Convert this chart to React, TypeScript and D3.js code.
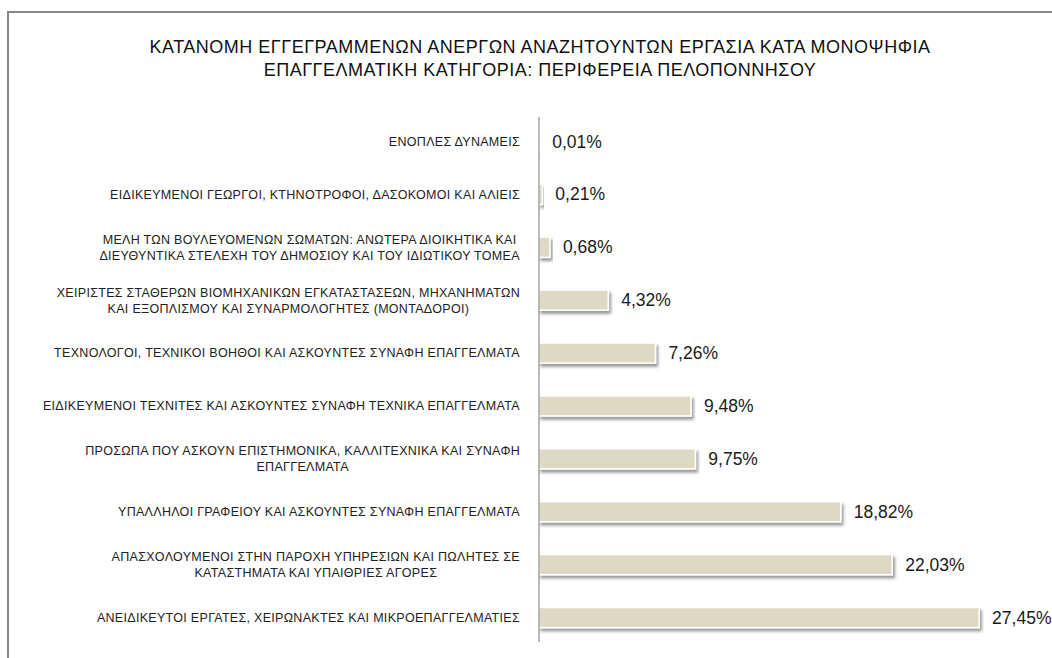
import React, { useEffect, useRef } from 'react';
import * as d3 from 'd3';

const titleLines = [
  'ΚΑΤΑΝΟΜΗ ΕΓΓΕΓΡΑΜΜΕΝΩΝ ΑΝΕΡΓΩΝ ΑΝΑΖΗΤΟΥΝΤΩΝ ΕΡΓΑΣΙΑ ΚΑΤΑ ΜΟΝΟΨΗΦΙΑ',
  'ΕΠΑΓΓΕΛΜΑΤΙΚΗ ΚΑΤΗΓΟΡΙΑ: ΠΕΡΙΦΕΡΕΙΑ ΠΕΛΟΠΟΝΝΗΣΟΥ',
];

const categories = [
  ['ΕΝΟΠΛΕΣ ΔΥΝΑΜΕΙΣ'],
  ['ΕΙΔΙΚΕΥΜΕΝΟΙ ΓΕΩΡΓΟΙ,  ΚΤΗΝΟΤΡΟΦΟΙ,  ΔΑΣΟΚΟΜΟΙ ΚΑΙ ΑΛΙΕΙΣ'],
  ['ΜΕΛΗ ΤΩΝ ΒΟΥΛΕΥΟΜΕΝΩΝ ΣΩΜΑΤΩΝ:  ΑΝΩΤΕΡΑ ΔΙΟΙΚΗΤΙΚΑ ΚΑΙ', 'ΔΙΕΥΘΥΝΤΙΚΑ ΣΤΕΛΕΧΗ ΤΟΥ ΔΗΜΟΣΙΟΥ ΚΑΙ ΤΟΥ ΙΔΙΩΤΙΚΟΥ ΤΟΜΕΑ'],
  ['ΧΕΙΡΙΣΤΕΣ ΣΤΑΘΕΡΩΝ ΒΙΟΜΗΧΑΝΙΚΩΝ ΕΓΚΑΤΑΣΤΑΣΕΩΝ, ΜΗΧΑΝΗΜΑΤΩΝ', 'ΚΑΙ ΕΞΟΠΛΙΣΜΟΥ ΚΑΙ ΣΥΝΑΡΜΟΛΟΓΗΤΕΣ (ΜΟΝΤΑΔΟΡΟΙ)'],
  ['ΤΕΧΝΟΛΟΓΟΙ, ΤΕΧΝΙΚΟΙ ΒΟΗΘΟΙ ΚΑΙ ΑΣΚΟΥΝΤΕΣ ΣΥΝΑΦΗ ΕΠΑΓΓΕΛΜΑΤΑ'],
  ['ΕΙΔΙΚΕΥΜΕΝΟΙ ΤΕΧΝΙΤΕΣ ΚΑΙ ΑΣΚΟΥΝΤΕΣ ΣΥΝΑΦΗ ΤΕΧΝΙΚΑ ΕΠΑΓΓΕΛΜΑΤΑ'],
  ['ΠΡΟΣΩΠΑ ΠΟΥ ΑΣΚΟΥΝ ΕΠΙΣΤΗΜΟΝΙΚΑ, ΚΑΛΛΙΤΕΧΝΙΚΑ ΚΑΙ ΣΥΝΑΦΗ', 'ΕΠΑΓΓΕΛΜΑΤΑ'],
  ['ΥΠΑΛΛΗΛΟΙ ΓΡΑΦΕΙΟΥ ΚΑΙ ΑΣΚΟΥΝΤΕΣ ΣΥΝΑΦΗ ΕΠΑΓΓΕΛΜΑΤΑ'],
  ['ΑΠΑΣΧΟΛΟΥΜΕΝΟΙ ΣΤΗΝ ΠΑΡΟΧΗ ΥΠΗΡΕΣΙΩΝ ΚΑΙ ΠΩΛΗΤΕΣ ΣΕ', 'ΚΑΤΑΣΤΗΜΑΤΑ ΚΑΙ ΥΠΑΙΘΡΙΕΣ ΑΓΟΡΕΣ'],
  ['ΑΝΕΙΔΙΚΕΥΤΟΙ ΕΡΓΑΤΕΣ, ΧΕΙΡΩΝΑΚΤΕΣ ΚΑΙ ΜΙΚΡΟΕΠΑΓΓΕΛΜΑΤΙΕΣ'],
];

const values = [0.01, 0.21, 0.68, 4.32, 7.26, 9.48, 9.75, 18.82, 22.03, 27.45];

const axisMax = 30;

export default function App() {
  const ref = useRef<SVGSVGElement>(null);

  useEffect(() => {
    const width = 1052;
    const height = 658;
    const svg = d3.select(ref.current);
    svg.selectAll('*').remove();

    const defs = svg.append('defs');
    const f = defs.append('filter').attr('id', 'shadow')
      .attr('x', '-10%').attr('y', '-50%').attr('width', '130%').attr('height', '220%');
    f.append('feDropShadow')
      .attr('dx', 2).attr('dy', 3).attr('stdDeviation', 1.6)
      .attr('flood-color', '#000').attr('flood-opacity', 0.4);

    svg.append('rect')
      .attr('x', 0).attr('y', 0).attr('width', width).attr('height', height)
      .attr('fill', '#fff');

    // chart frame
    svg.append('rect')
      .attr('x', 8).attr('y', 12).attr('width', 1100).attr('height', 700)
      .attr('fill', 'none').attr('stroke', '#868686').attr('stroke-width', 2);

    const idx = d3.range(values.length);
    const y = d3.scaleBand<number>()
      .domain(idx)
      .range([115, 644])
      .paddingInner(0.62)
      .paddingOuter(0.31);

    const x = d3.scaleLinear().domain([0, axisMax]).range([539, 1020]);

    svg.append('g')
      .selectAll('text')
      .data(titleLines)
      .join('text')
      .attr('x', 540)
      .attr('y', (d, i) => 53 + i * 23)
      .attr('text-anchor', 'middle')
      .attr('font-family', '"Liberation Sans", Arial, sans-serif')
      .attr('font-size', 18)
      .attr('letter-spacing', 0.5)
      .attr('fill', '#111')
      .text(d => d);

    svg.append('g')
      .selectAll('rect')
      .data(values)
      .join('rect')
      .attr('x', x(0))
      .attr('y', (d, i) => y(i)!)
      .attr('width', d => x(d) - x(0))
      .attr('height', y.bandwidth())
      .attr('fill', '#ddd9c3')
      .attr('stroke', '#fff')
      .attr('stroke-width', 1.5)
      .attr('filter', 'url(#shadow)');

    svg.append('line')
      .attr('x1', x(0)).attr('x2', x(0))
      .attr('y1', 117).attr('y2', 642)
      .attr('stroke', '#8c8c8c').attr('stroke-width', 1.2);

    svg.append('g')
      .selectAll('text')
      .data(values)
      .join('text')
      .attr('x', d => x(d) + 13)
      .attr('y', (d, i) => y(i)! + y.bandwidth() / 2)
      .attr('dy', '0.35em')
      .attr('font-family', '"Liberation Sans", Arial, sans-serif')
      .attr('font-size', 17.5)
      .attr('fill', '#1a1a1a')
      .text(d => d.toFixed(2).replace('.', ',') + '%');

    const labelRight = 520;
    const lineH = 16;
    const lg = svg.append('g')
      .attr('font-family', '"Liberation Sans", Arial, sans-serif')
      .attr('font-size', 12.5)
      .attr('letter-spacing', 0.3)
      .attr('fill', '#222');
    categories.forEach((lines, i) => {
      const cy = y(i)! + y.bandwidth() / 2;
      const t = lg.append('text').attr('text-anchor', 'middle');
      lines.forEach((ln, j) => {
        t.append('tspan')
          .attr('x', 0)
          .attr('y', cy + (j - (lines.length - 1) / 2) * lineH)
          .attr('dy', '0.35em')
          .text(ln);
      });
      const w = (t.node() as SVGTextElement).getBBox().width;
      t.attr('transform', `translate(${labelRight - w / 2},0)`);
    });
  }, []);

  return (
    <svg
      ref={ref}
      width={1052}
      height={658}
      style={{ position: 'absolute', left: 0, top: 0 }}
    />
  );
}
